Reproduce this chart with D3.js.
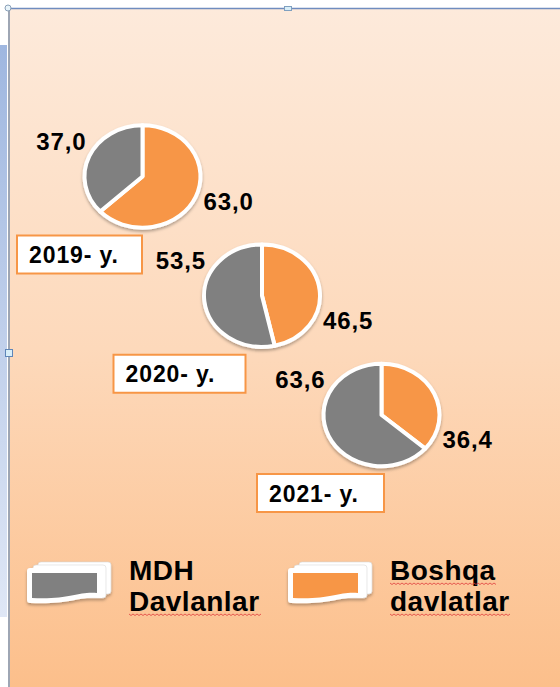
<!DOCTYPE html>
<html>
<head>
<meta charset="utf-8">
<script src="https://cdn.jsdelivr.net/npm/d3@7"></script>
<style>
  body { margin: 0; background: #fff; }
  svg { display: block; }
  text { font-family: "Liberation Sans", Arial, sans-serif; font-weight: bold; fill: #000; }
</style>
</head>
<body>
<svg id="chart" width="560" height="687"></svg>
<script>
// data
const years = ["2019", "2020", "2021"];
const mdhShare = [37.0, 53.5, 63.6];     // MDH Davlanlar (gray)
const otherShare = [63.0, 46.5, 36.4];   // Boshqa davlatlar (orange)
const legendLines = [["MDH", "Davlanlar"], ["Boshqa", "davlatlar"]];
const seriesColors = ["#808080", "#f79646"];
const yearSuffix = "- y.";

const W = 560, H = 687;
const svg = d3.select('#chart');
const defs = svg.append('defs');

const bg = defs.append('linearGradient').attr('id', 'bg')
  .attr('x1', 0).attr('y1', 0).attr('x2', 0).attr('y2', 1);
bg.append('stop').attr('offset', '0%').attr('stop-color', '#fdeadb');
bg.append('stop').attr('offset', '50%').attr('stop-color', '#fdd9bb');
bg.append('stop').attr('offset', '100%').attr('stop-color', '#fcbf8b');

const strip = defs.append('linearGradient').attr('id', 'strip')
  .attr('x1', 0).attr('y1', 0).attr('x2', 0).attr('y2', 1);
strip.append('stop').attr('offset', '0%').attr('stop-color', '#9fb7e0');
strip.append('stop').attr('offset', '100%').attr('stop-color', '#dfe7f6');

const shadow = defs.append('filter').attr('id', 'shadow')
  .attr('x', '-20%').attr('y', '-20%').attr('width', '140%').attr('height', '150%');
shadow.append('feDropShadow').attr('dx', 0).attr('dy', 2).attr('stdDeviation', 1.6)
  .attr('flood-color', '#000').attr('flood-opacity', 0.3);

// frame, like the slide editor around the chart
svg.append('rect').attr('x', 0).attr('y', 45).attr('width', 7).attr('height', 572)
  .attr('fill', 'url(#strip)');
svg.append('rect').attr('x', 10).attr('y', 9).attr('width', W - 10).attr('height', H - 9)
  .attr('fill', 'url(#bg)');
svg.append('line').attr('x1', 9).attr('x2', 9).attr('y1', 8).attr('y2', H)
  .attr('stroke', '#9ea6b4').attr('stroke-width', 2);
svg.append('line').attr('x1', 9).attr('x2', W).attr('y1', 8.5).attr('y2', 8.5)
  .attr('stroke', '#6f8cbf').attr('stroke-width', 1.5);
svg.append('circle').attr('cx', 8).attr('cy', 8).attr('r', 3)
  .attr('fill', '#e8f4fa').attr('stroke', '#8aa0b8');
svg.append('rect').attr('x', 284.5).attr('y', 6.5).attr('width', 7).attr('height', 4)
  .attr('fill', '#d8eef8').attr('stroke', '#7fa0c0');
svg.append('rect').attr('x', 5.5).attr('y', 349.5).attr('width', 7).attr('height', 7)
  .attr('fill', '#d8eef8').attr('stroke', '#5f86b8');

// pies
const cx = d3.scalePoint().domain(years).range([142.5, 381.5]);
const cy = d3.scalePoint().domain(years).range([176.5, 415]);
const R = 58, squash = 0.883;
const fmt = d => d3.format('.1f')(d).replace('.', ',');

const pie = d3.pie().sort(null).value(d => d.v);
const arc = d3.arc().innerRadius(0).outerRadius(R);
const boxDx = [-125.5, -148.5, -124.5];
const boxW = [125, 132, 127];

years.forEach((yr, i) => {
  const g = svg.append('g').attr('transform', `translate(${cx(yr)},${cy(yr)})`);
  const slices = [
    { v: otherShare[i], c: seriesColors[1] },
    { v: mdhShare[i], c: seriesColors[0] }
  ];
  const pg = g.append('g').attr('filter', 'url(#shadow)');
  pg.append('g').attr('transform', `scale(1,${squash})`)
    .selectAll('path').data(pie(slices)).join('path')
    .attr('d', arc)
    .attr('fill', d => d.data.c)
    .attr('stroke', '#fff').attr('stroke-width', 4)
    .attr('stroke-linejoin', 'round')
    .attr('vector-effect', 'non-scaling-stroke');

  g.append('text').attr('x', -56).attr('y', -27).attr('text-anchor', 'end')
    .style('font-size', '24px').style('letter-spacing', '0.9px')
    .text(fmt(mdhShare[i]));
  g.append('text').attr('x', 61).attr('y', 33)
    .style('font-size', '24px').style('letter-spacing', '0.9px')
    .text(fmt(otherShare[i]));

  const bx = boxDx[i], by = 59;
  g.append('rect').attr('x', bx).attr('y', by).attr('width', boxW[i]).attr('height', 38)
    .attr('fill', '#fff').attr('stroke', '#f79646').attr('stroke-width', 2);
  g.append('text').attr('x', bx + 12).attr('y', by + 27.5)
    .style('font-size', '23px').style('letter-spacing', '0.9px')
    .text(yr + yearSuffix);
});

// legend
const lx = d3.scalePoint().domain([0, 1]).range([27, 288]);
const squiggle = (x0, x1, y) => {
  let p = `M${x0},${y}`;
  for (let x = x0, k = 0; x < x1; x += 2, k++) p += `L${x + 2},${y + (k % 2 ? 0 : 1.5)}`;
  return p;
};
legendLines.forEach((lines, i) => {
  const g = svg.append('g').attr('transform', `translate(${lx(i)},568)`);
  const icon = g.append('g').attr('filter', 'url(#shadow)');
  icon.append('rect').attr('x', 11).attr('y', -6).attr('width', 73).attr('height', 32).attr('rx', 3)
    .attr('fill', '#fff').attr('stroke', '#d8d8d8').attr('stroke-width', 0.6);
  icon.append('rect').attr('x', 6).attr('y', -3).attr('width', 73).attr('height', 33).attr('rx', 3)
    .attr('fill', '#fff').attr('stroke', '#d8d8d8').attr('stroke-width', 0.6);
  icon.append('path')
    .attr('d', 'M0,3 Q0,0 3,0 H72 Q75,0 75,3 V30 C56,27 44,37 3,35 Q0,35 0,32 Z')
    .attr('fill', '#fff');
  g.append('path')
    .attr('d', 'M5,5 H70 V25 C52,23 42,32 5,30 Z')
    .attr('fill', seriesColors[i]);

  lines.forEach((t, j) => {
    const tx = g.append('text').attr('x', 102).attr('y', 12 + j * 31)
      .style('font-size', '28px').style('letter-spacing', '0.5px')
      .text(t);
    if (i === 1 || j === 1) {
      const len = tx.node().getComputedTextLength();
      g.append('path').attr('d', squiggle(102, 102 + len, 15 + j * 31))
        .attr('fill', 'none').attr('stroke', '#e03c3c').attr('stroke-width', 0.8);
    }
  });
});
</script>
</body>
</html>
